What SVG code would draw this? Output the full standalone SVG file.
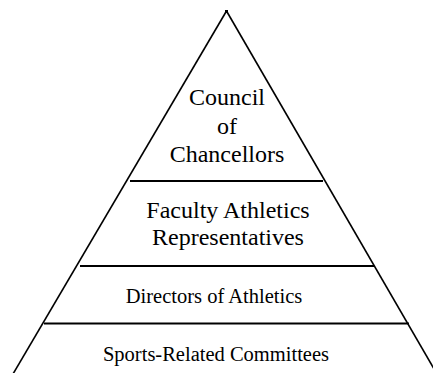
<svg xmlns="http://www.w3.org/2000/svg" width="433" height="373" viewBox="0 0 433 373">
<style>
.side{stroke:#000;stroke-width:1.6;fill:none}
.tier{stroke:#000;stroke-width:2;fill:none}
.t{font-family:"Liberation Serif","Times New Roman",serif;fill:#000;text-anchor:middle}
.big{font-size:24px}
.sm{font-size:20.5px}
</style>
<rect width="433" height="373" fill="#fff"/>
<g id="pyramid">
<line class="side" x1="226.5" y1="11" x2="13" y2="374"/>
<line class="side" x1="226.5" y1="11" x2="437" y2="374"/>
<rect x="225" y="10" width="3" height="3" fill="#000"/>
</g>
<g id="dividers">
<line class="tier" x1="130" y1="181" x2="323" y2="181"/>
<line class="tier" x1="80" y1="266" x2="374" y2="266"/>
<line class="tier" x1="44" y1="323.5" x2="409" y2="323.5"/>
</g>
<g id="council">
<text class="t big" x="227" y="105">Council</text>
<text class="t big" x="227" y="133.5">of</text>
<text class="t big" x="227" y="162">Chancellors</text>
</g>
<g id="faculty">
<text class="t big" x="228" y="218">Faculty Athletics</text>
<text class="t big" x="228" y="245">Representatives</text>
</g>
<g id="directors">
<text class="t sm" x="214" y="303">Directors of Athletics</text>
</g>
<g id="committees">
<text class="t sm" x="216" y="361">Sports-Related Committees</text>
</g>
</svg>
